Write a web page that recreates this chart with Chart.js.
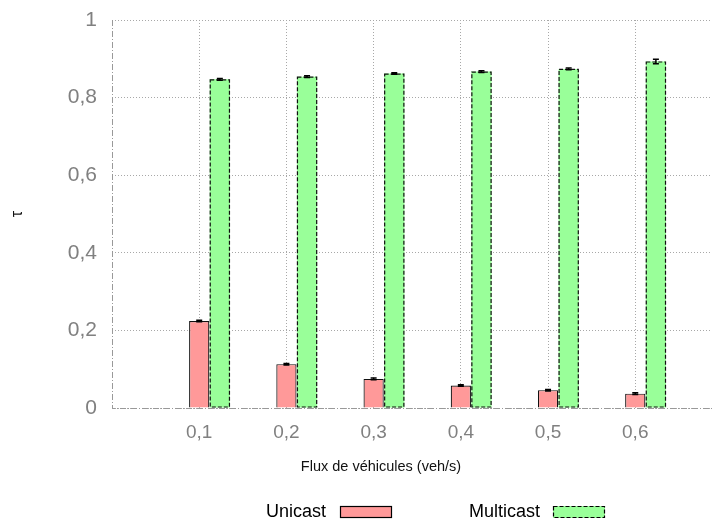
<!DOCTYPE html>
<html>
<head>
<meta charset="utf-8">
<script src="https://cdn.jsdelivr.net/npm/chart.js@4"></script>
<style>
  html, body { margin: 0; padding: 0; background: #fff; }
</style>
</head>
<body>
<canvas id="chart" width="713" height="521"></canvas>
<script>
// flux values (x) and their labels
const flux = [0.1, 0.2, 0.3, 0.4, 0.5, 0.6];
const fluxLabels = ['0,1', '0,2', '0,3', '0,4', '0,5', '0,6'];

// tau per mode, with error half-widths
const unicast = [0.224, 0.113, 0.075, 0.058, 0.046, 0.037];
const unicastErr = [0.002, 0.002, 0.002, 0.002, 0.002, 0.002];
const multicast = [0.847, 0.854, 0.862, 0.867, 0.874, 0.893];
const multicastErr = [0.002, 0.002, 0.002, 0.002, 0.002, 0.006];

const yTicks = [0, 0.2, 0.4, 0.6, 0.8, 1];
const yLabels = ['0', '0,2', '0,4', '0,6', '0,8', '1'];

const xTitle = 'Flux de véhicules (veh/s)';

Chart.defaults.font.family = '"Liberation Sans", Arial, sans-serif';

const toPoints = vals => vals.map((v, i) => ({ x: flux[i], y: v }));

// axis borders (dash-dot), dashed outline for multicast, error bars, x title, gnuplot-like legend
const extras = {
  id: 'extras',
  beforeDatasetsDraw(chart) {
    const { ctx, chartArea: a } = chart;
    ctx.save();
    ctx.strokeStyle = '#999';
    ctx.lineWidth = 1;
    ctx.setLineDash([6, 2, 1, 2]);
    ctx.beginPath();
    ctx.moveTo(a.left + 0.5, a.top);
    ctx.lineTo(a.left + 0.5, a.bottom + 0.5);
    ctx.lineTo(a.right, a.bottom + 0.5);
    ctx.stroke();
    ctx.restore();
  },
  afterDatasetsDraw(chart) {
    const ctx = chart.ctx;
    const yScale = chart.scales.y;
    ctx.save();
    chart.getDatasetMeta(2).data.forEach(bar => {
      const left = bar.x - bar.width / 2;
      ctx.setLineDash([4, 2]);
      ctx.strokeStyle = '#111';
      ctx.lineWidth = 1.2;
      ctx.strokeRect(left + 0.5, bar.y + 0.5, bar.width - 1, bar.base - bar.y - 1);
    });
    ctx.setLineDash([]);
    [[1, unicast, unicastErr], [2, multicast, multicastErr]].forEach(([idx, vals, err]) => {
      chart.getDatasetMeta(idx).data.forEach((bar, i) => {
        const top = yScale.getPixelForValue(vals[i] + err[i]);
        const bot = yScale.getPixelForValue(vals[i] - err[i]);
        ctx.strokeStyle = '#000';
        ctx.lineWidth = 1.5;
        ctx.beginPath();
        ctx.moveTo(bar.x, top); ctx.lineTo(bar.x, bot);
        ctx.moveTo(bar.x - 3, top); ctx.lineTo(bar.x + 3, top);
        ctx.moveTo(bar.x - 3, bot); ctx.lineTo(bar.x + 3, bot);
        ctx.stroke();
      });
    });
    ctx.restore();
  },
  afterDraw(chart) {
    const ctx = chart.ctx;
    ctx.save();
    // x axis title, centred like gnuplot does it (on the canvas, not the plot)
    ctx.font = '14.5px "Liberation Sans", Arial, sans-serif';
    ctx.fillStyle = '#111';
    ctx.textAlign = 'center';
    ctx.textBaseline = 'middle';
    ctx.fillText(xTitle, 381, 467);

    const slots = [{ textRight: 326, boxLeft: 340 }, { textRight: 540, boxLeft: 553 }];
    const items = chart.data.datasets.filter(d => d.label);
    ctx.font = '18px "Liberation Sans", Arial, sans-serif';
    ctx.textAlign = 'right';
    items.forEach((d, i) => {
      const s = slots[i];
      const cy = 512;
      ctx.fillStyle = '#000';
      ctx.fillText(d.label, s.textRight, cy);
      ctx.fillStyle = d.backgroundColor;
      ctx.fillRect(s.boxLeft, cy - 6, 52, 12);
      ctx.strokeStyle = '#000';
      ctx.lineWidth = 1.2;
      ctx.setLineDash(d.dashed ? [4, 2] : []);
      ctx.strokeRect(s.boxLeft + 0.5, cy - 6 + 0.5, 51, 11);
    });
    ctx.restore();
  }
};

new Chart(document.getElementById('chart'), {
  type: 'bar',
  data: {
    datasets: [
      { label: '', data: toPoints(flux.map(() => 0)), backgroundColor: 'rgba(0,0,0,0)', borderWidth: 0 },
      { label: 'Unicast', data: toPoints(unicast), backgroundColor: '#ff9999', borderColor: '#111', borderWidth: 1.2 },
      { label: 'Multicast', data: toPoints(multicast), backgroundColor: '#99ff99', borderWidth: 0, dashed: true }
    ]
  },
  options: {
    responsive: false,
    animation: false,
    categoryPercentage: 0.71,
    barPercentage: 0.98,
    layout: { padding: { left: 0, top: 20, right: 1, bottom: 0 } },
    plugins: { legend: { display: false }, tooltip: { enabled: false } },
    scales: {
      x: {
        type: 'linear',
        offset: false,
        min: 0,
        max: 0.688,
        afterBuildTicks: s => { s.ticks = flux.map(v => ({ value: v })); },
        afterFit: s => { s.height = 113; s.paddingLeft = 0; s.paddingRight = 0; },
        ticks: {
          padding: 13,
          color: '#808080',
          font: { size: 19 },
          callback: v => fluxLabels[flux.findIndex(f => Math.abs(f - v) < 1e-6)]
        },
        grid: { offset: false, color: '#a8a8a8', drawTicks: false, lineWidth: 1 },
        border: { display: false, dash: [1, 2] },
        title: { display: false }
      },
      y: {
        min: 0,
        max: 1,
        afterBuildTicks: s => { s.ticks = yTicks.map(v => ({ value: v })); },
        afterFit: s => { s.width = 112; s.paddingTop = 0; s.paddingBottom = 0; },
        ticks: {
          padding: 15,
          color: '#808080',
          font: { size: 21 },
          callback: v => yLabels[yTicks.findIndex(t => Math.abs(t - v) < 1e-6)]
        },
        grid: { color: '#a8a8a8', drawTicks: false, lineWidth: 1 },
        border: { display: false, dash: [1, 2] },
        title: { display: true, text: 'τ', color: '#111', font: { size: 16 }, padding: { top: 8, bottom: 0 } }
      }
    }
  },
  plugins: [extras]
});
</script>
</body>
</html>
